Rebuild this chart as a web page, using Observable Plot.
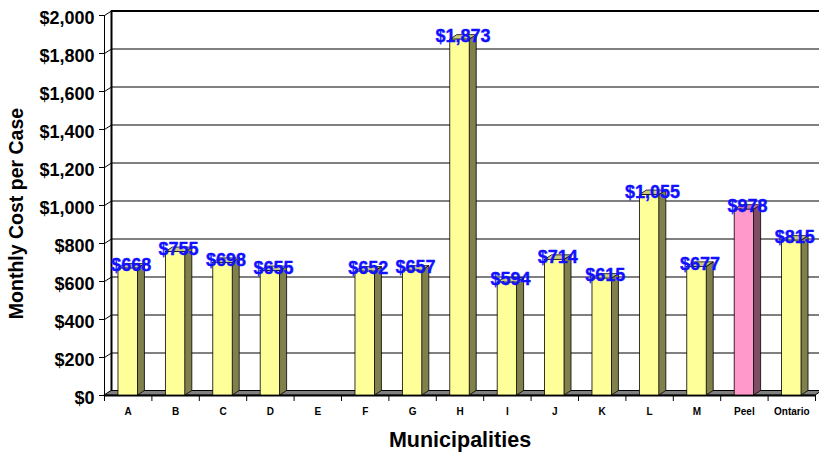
<!DOCTYPE html>
<html>
<head>
<meta charset="utf-8">
<script src="https://cdn.jsdelivr.net/npm/d3@7"></script>
<script src="https://cdn.jsdelivr.net/npm/@observablehq/plot@0.6"></script>
<style>
  html, body { margin: 0; padding: 0; background: white; }
  #chart { width: 819px; height: 454px; }
</style>
</head>
<body>
<div id="chart"></div>
<script>
const categories = ["A", "B", "C", "D", "E", "F", "G", "H", "I", "J", "K", "L", "M", "Peel", "Ontario"];
const values = [668, 755, 698, 655, null, 652, 657, 1873, 594, 714, 615, 1055, 677, 978, 815];
const highlight = "Peel";
const yTicks = [0, 200, 400, 600, 800, 1000, 1200, 1400, 1600, 1800, 2000];

const WIDTH = 819, HEIGHT = 454;
const mL = 104, mR = 4, mT = 15, mB = 59;
const xDomain = [-0.5, categories.length - 0.5];
const yDomain = [0, 2000];
const DXpx = 7, DYpx = 4.5;
const DXu = DXpx * (xDomain[1] - xDomain[0]) / (WIDTH - mL - mR);
const DYu = DYpx * (yDomain[1] - yDomain[0]) / (HEIGHT - mT - mB);
const BW = 0.41;
const font = "'Liberation Sans', Arial, sans-serif";

const colors = {
  normal: {front: "#ffff99", side: "#80804d", top: "#cccc7a"},
  peel: {front: "#ff99cc", side: "#804d66", top: "#cc7aa3"}
};
const pal = c => c === highlight ? colors.peel : colors.normal;

const bars = categories.map((c, i) => ({c, i, v: values[i]})).filter(d => d.v != null);
const sideFaces = bars.flatMap(d => [
  {c: d.c, x: d.i + BW / 2, y1: 0, y2: d.v, fill: pal(d.c).side},
  {c: d.c, x: d.i + BW / 2 + DXu, y1: DYu, y2: d.v + DYu, fill: pal(d.c).side}
]);
const topFaces = bars.flatMap(d => [
  {c: d.c, y: d.v, x1: d.i - BW / 2, x2: d.i + BW / 2, fill: pal(d.c).top},
  {c: d.c, y: d.v + DYu, x1: d.i - BW / 2 + DXu, x2: d.i + BW / 2 + DXu, fill: pal(d.c).top}
]);
const floorFace = [
  {y: 0, x1: xDomain[0], x2: xDomain[1]},
  {y: DYu, x1: xDomain[0] + DXu, x2: xDomain[1] + DXu}
];
const boundaries = d3.range(categories.length + 1).map(i => i - 0.5);

const chart = Plot.plot({
  width: WIDTH,
  height: HEIGHT,
  marginLeft: mL, marginRight: mR, marginTop: mT, marginBottom: mB,
  style: {fontFamily: font, background: "white", overflow: "visible"},
  x: {type: "linear", domain: xDomain},
  y: {domain: yDomain},
  marks: [
    Plot.ruleY(yTicks.filter(t => t > 0 && t < 2000), {dx: DXpx, dy: -DYpx, stroke: "#000", strokeWidth: 1}),
    Plot.ruleY([2000], {dx: DXpx, dy: -DYpx, stroke: "#000", strokeWidth: 2}),
    Plot.link(yTicks, {x1: xDomain[0], x2: xDomain[0] + DXu, y1: d => d, y2: d => d + DYu, stroke: "#000", strokeWidth: 1}),
    Plot.ruleX([xDomain[0]], {y1: 0, y2: 2000, dx: DXpx, dy: -DYpx, stroke: "#000", strokeWidth: 2}),
    Plot.ruleX([xDomain[0]], {y1: 0, y2: 2000, stroke: "#000", strokeWidth: 1}),
    Plot.areaX(floorFace, {y: "y", x1: "x1", x2: "x2", fill: "#808080", stroke: "#000", strokeWidth: 1}),
    Plot.ruleY([0], {stroke: "#000", strokeWidth: 2}),
    Plot.areaY(sideFaces, {x: "x", y1: "y1", y2: "y2", z: "c", fill: "fill", stroke: "#000", strokeWidth: 0.8}),
    Plot.areaX(topFaces, {y: "y", x1: "x1", x2: "x2", z: "c", fill: "fill", stroke: "#000", strokeWidth: 0.8}),
    Plot.rectY(bars, {x1: d => d.i - BW / 2, x2: d => d.i + BW / 2, y1: 0, y2: "v", fill: d => pal(d.c).front, stroke: "#000", strokeWidth: 0.8}),
    Plot.text(bars, {x: "i", y: "v", text: d => d3.format("$,")(d.v), dx: 3, dy: -3, lineAnchor: "middle", fill: "#1111ff", stroke: "#1111ff", strokeWidth: 0.4, fontSize: 18, fontWeight: "bold"}),
    Plot.axisY(yTicks, {tickFormat: () => "", tickSize: 5, label: null, stroke: "#000"}),
    Plot.axisY(yTicks, {tickFormat: d3.format("$,"), tickSize: 0, tickPadding: 10, dy: 3, fontSize: 18, fontWeight: "bold", label: null, fill: "#000"}),
    Plot.axisX(boundaries, {tickFormat: () => "", tickSize: 6, label: null, stroke: "#000"}),
    Plot.axisX(d3.range(categories.length), {tickFormat: i => categories[i], tickSize: 0, tickPadding: 12, fontSize: 10, fontWeight: "bold", label: null, fill: "#000"}),
    Plot.text(["Monthly Cost per Case"], {frameAnchor: "left", dx: -88, dy: 8, rotate: -90, textAnchor: "middle", fontSize: 19.5, fontWeight: "bold", fill: "#000", lineAnchor: "middle"}),
    Plot.text(["Municipalities"], {frameAnchor: "bottom", dy: 45, fontSize: 21.5, fontWeight: "bold", fill: "#000", lineAnchor: "middle"})
  ]
});
document.getElementById("chart").appendChild(chart);
</script>
</body>
</html>
